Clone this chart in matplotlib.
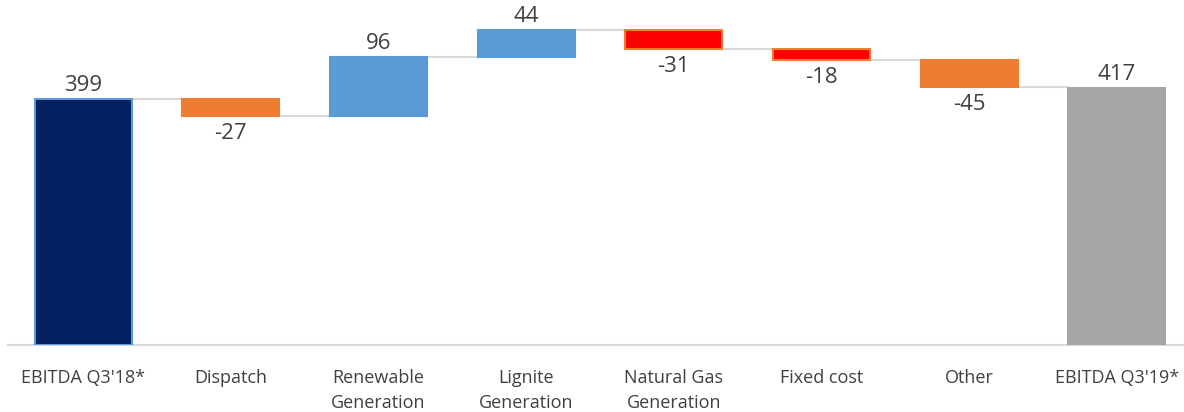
import matplotlib
matplotlib.use("Agg")
import matplotlib.pyplot as plt

categories = ["EBITDA Q3'18*", "Dispatch", "Renewable\nGeneration", "Lignite\nGeneration",
              "Natural Gas\nGeneration", "Fixed cost", "Other", "EBITDA Q3'19*"]
values = [399, -27, 96, 44, -31, -18, -45, 417]
is_total = [True, False, False, False, False, False, False, True]
face_colors = ["#002060", "#ED7D31", "#5B9BD5", "#5B9BD5", "#FF0000", "#FF0000", "#ED7D31", "#A5A5A5"]
edge_colors = ["#5B9BD5", "#ED7D31", "#5B9BD5", "#5B9BD5", "#ED7D31", "#ED7D31", "#ED7D31", "#A5A5A5"]

plt.rcParams['font.family'] = ['Open Sans', 'DejaVu Sans']

fig = plt.figure(figsize=(11.84, 4.12), dpi=100)
ax = fig.add_axes([8/1184, 67/412, 1 - 8/1184, 345/412])

width = 0.657
bottoms, tops = [], []
running = 0
for v, t in zip(values, is_total):
    if t:
        b, tp = 0, v
        running = v
    else:
        start = running
        running = running + v
        b, tp = min(start, running), max(start, running)
    bottoms.append(b)
    tops.append(tp)

x = list(range(len(values)))
ax.bar(x, [t - b for t, b in zip(tops, bottoms)], bottom=bottoms, width=width,
       color=face_colors, edgecolor=edge_colors, linewidth=1.5, zorder=3)

# connectors
levels = []
running = 0
for v, t in zip(values, is_total):
    running = v if t else running + v
    levels.append(running)
for i in range(len(values) - 1):
    ax.plot([i + width / 2, i + 1 - width / 2], [levels[i], levels[i]],
            color="#D9D9D9", linewidth=1.5, zorder=2, solid_capstyle='butt')

# labels
for i, v in enumerate(values):
    if v >= 0:
        ax.annotate(f"{v}", (i, tops[i]), xytext=(0, 2), textcoords="offset points",
                    ha="center", va="bottom", fontsize=16, color="#404040")
    else:
        ax.annotate(f"{v}", (i, bottoms[i]), xytext=(0, -5), textcoords="offset points",
                    ha="center", va="top", fontsize=16, color="#404040")

ax.set_xlim(-0.508, 7.454)
ax.set_ylim(0, 560)
ax.set_xticks(x)
ax.set_xticklabels(categories, fontsize=13, color="#404040", linespacing=1.5)
ax.tick_params(axis='x', length=0, pad=17)
ax.set_yticks([])
for s in ["top", "right", "left"]:
    ax.spines[s].set_visible(False)
ax.spines["bottom"].set_color("#D9D9D9")
ax.spines["bottom"].set_linewidth(1.5)
ax.set_facecolor("white")

fig.savefig("out.png", dpi=100)
